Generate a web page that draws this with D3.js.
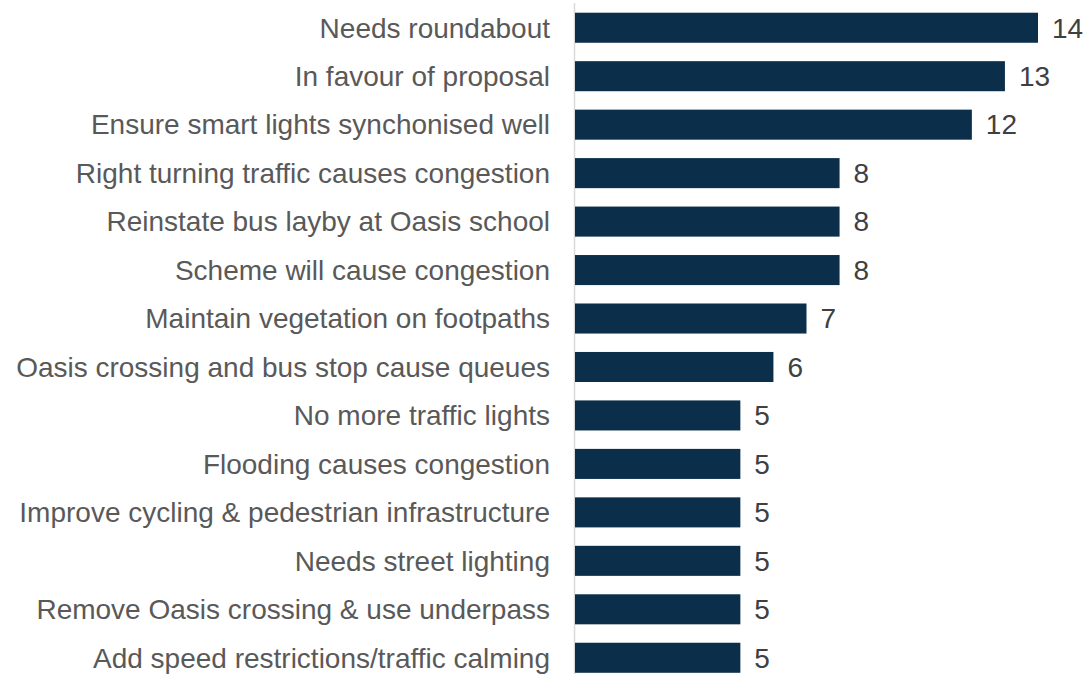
<!DOCTYPE html>
<html>
<head>
<meta charset="utf-8">
<script src="https://cdn.jsdelivr.net/npm/d3@7"></script>
<style>
  html, body { margin: 0; padding: 0; background: #ffffff; }
  svg { display: block; }
  text { font-family: "Liberation Sans", Arial, sans-serif; }
</style>
</head>
<body>
<svg id="chart" width="1087" height="674"></svg>
<script>
// Comment themes and number of responses mentioning each
const categories = [
  "Needs roundabout",
  "In favour of proposal",
  "Ensure smart lights synchonised well",
  "Right turning traffic causes congestion",
  "Reinstate bus layby at Oasis school",
  "Scheme will cause congestion",
  "Maintain vegetation on footpaths",
  "Oasis crossing and bus stop cause queues",
  "No more traffic lights",
  "Flooding causes congestion",
  "Improve cycling & pedestrian infrastructure",
  "Needs street lighting",
  "Remove Oasis crossing & use underpass",
  "Add speed restrictions/traffic calming"
];
const counts = [14, 13, 12, 8, 8, 8, 7, 6, 5, 5, 5, 5, 5, 5];

const svg = d3.select("#chart");
const x0 = 575;

const x = d3.scaleLinear().domain([0, 14]).range([x0, 1038]);
const y = d3.scaleBand().domain(categories).range([3.5, 682]).paddingInner(0.38).paddingOuter(0.19);

// category axis line
svg.append("line")
  .attr("x1", x0 - 0.5).attr("x2", x0 - 0.5)
  .attr("y1", 3).attr("y2", 674)
  .attr("stroke", "#d9d9d9").attr("stroke-width", 1.5);

const rows = categories.map((c, i) => ({ c, v: counts[i] }));

svg.append("g").selectAll("rect")
  .data(rows).join("rect")
  .attr("x", x(0))
  .attr("y", d => y(d.c))
  .attr("width", d => x(d.v) - x(0))
  .attr("height", y.bandwidth())
  .attr("fill", "#0b2f4b");

svg.append("g").selectAll("text")
  .data(rows).join("text")
  .attr("x", 550)
  .attr("y", d => y(d.c) + y.bandwidth() / 2)
  .attr("dy", "0.35em")
  .attr("text-anchor", "end")
  .attr("font-size", 28)
  .attr("fill", "#595959")
  .text(d => d.c);

svg.append("g").selectAll("text")
  .data(rows).join("text")
  .attr("x", d => x(d.v) + 14)
  .attr("y", d => y(d.c) + y.bandwidth() / 2)
  .attr("dy", "0.35em")
  .attr("font-size", 28)
  .attr("fill", "#404040")
  .text(d => d.v);
</script>
</body>
</html>
